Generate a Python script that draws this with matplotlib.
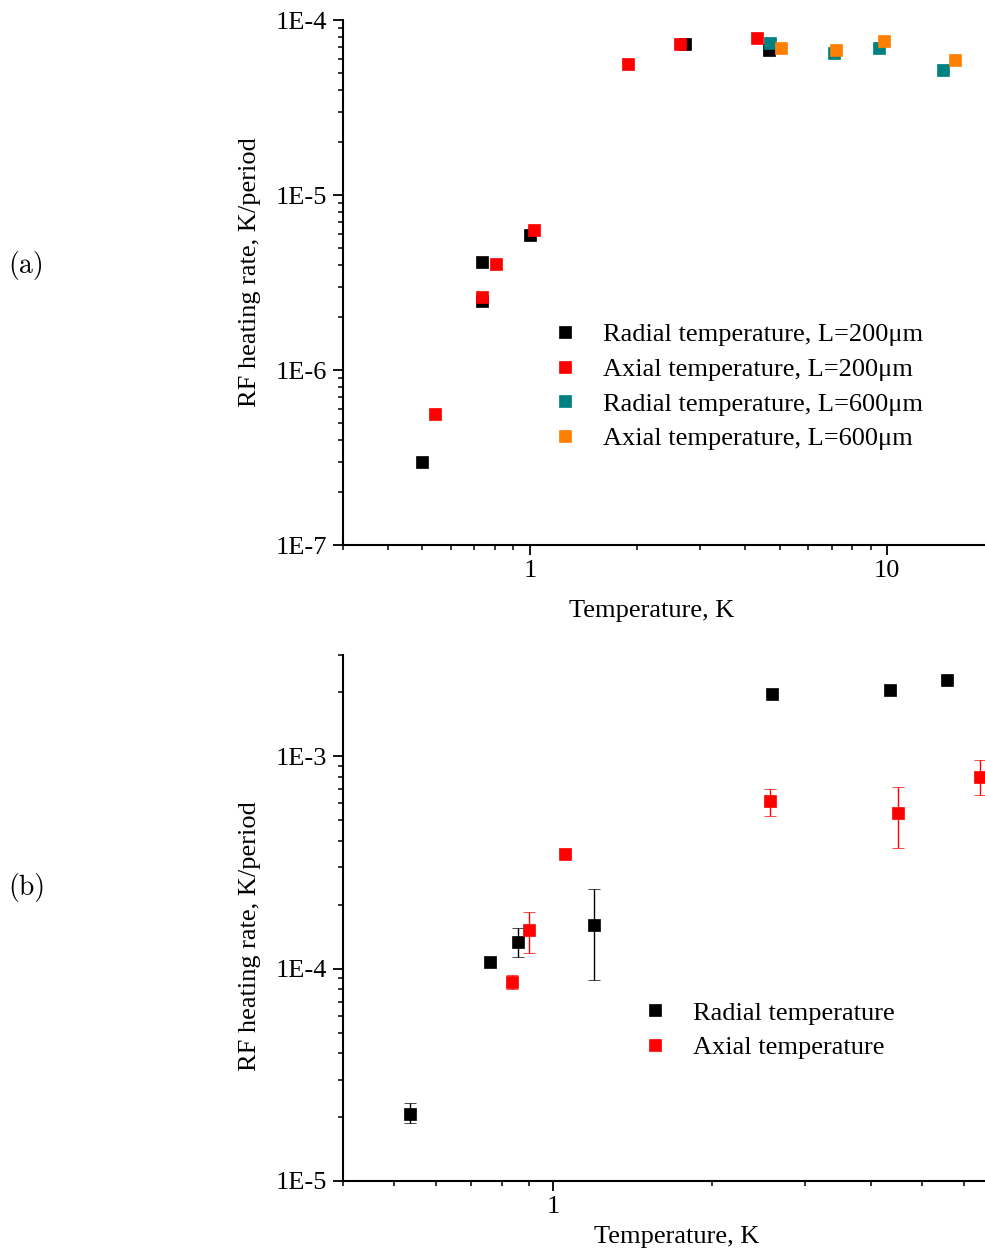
import numpy as np
import matplotlib
matplotlib.use('Agg')
import matplotlib.pyplot as plt
from matplotlib.lines import Line2D
from matplotlib.ticker import LogLocator, FuncFormatter, NullFormatter

# panel (a): L=200um and L=600um traps
T_rad200 = [0.499, 0.734, 0.733, 1.00, 2.72, 4.68]
R_rad200 = [3.0e-7, 2.48e-6, 4.14e-6, 5.89e-6, 7.34e-5, 6.7e-5]
T_ax200 = [0.544, 0.734, 0.804, 1.03, 1.88, 2.64, 4.33]
R_ax200 = [5.64e-7, 2.6e-6, 4.01e-6, 6.28e-6, 5.64e-5, 7.34e-5, 7.84e-5]
T_rad600 = [4.71, 7.11, 9.47, 14.3]
R_rad600 = [7.35e-5, 6.48e-5, 6.96e-5, 5.21e-5]
T_ax600 = [5.04, 7.21, 9.81, 15.5]
R_ax600 = [6.96e-5, 6.78e-5, 7.54e-5, 5.94e-5]

# panel (b): with error bars (lower, upper)
T_rad = [0.536, 0.76, 0.859, 1.194, 2.60, 4.35, 5.58]
R_rad = [2.07e-5, 1.07e-4, 1.334e-4, 1.61e-4, 1.97e-3, 2.05e-3, 2.30e-3]
R_rad_lo = [1.87e-5, 1.04e-4, 1.13e-4, 8.85e-5, 1.93e-3, 1.96e-3, 2.25e-3]
R_rad_hi = [2.32e-5, 1.10e-4, 1.55e-4, 2.37e-4, 2.01e-3, 2.14e-3, 2.35e-3]
T_ax = [0.837, 0.901, 1.053, 2.58, 4.50, 6.44]
R_ax = [8.69e-5, 1.52e-4, 3.48e-4, 6.13e-4, 5.39e-4, 8.01e-4]
R_ax_lo = [8.02e-5, 1.19e-4, 3.40e-4, 5.21e-4, 3.70e-4, 6.56e-4]
R_ax_hi = [9.38e-5, 1.84e-4, 3.56e-4, 7.05e-4, 7.15e-4, 9.65e-4]

plt.rcParams['font.family'] = ['Liberation Serif', 'DejaVu Serif']
plt.rcParams['font.size'] = 19

W, H = 985.0, 1257.0
fig = plt.figure(figsize=(W/100, H/100), dpi=100)
ax1 = fig.add_axes([343/W, 1-545/H, 1-343/W, 525/H])
ax2 = fig.add_axes([343/W, 1-1181/H, 1-343/W, 526/H])

ms = 8.5
def pts(ax, x, y, c, lab):
	ax.plot(x, y, 's', color=c, mec=c, mew=0.5, ms=ms, label=lab)

pts(ax1, T_rad200, R_rad200, 'black', u'Radial temperature, L=200\u03bcm')
pts(ax1, T_ax200, R_ax200, '#ff0000', u'Axial temperature, L=200\u03bcm')
pts(ax1, T_rad600, R_rad600, '#008080', u'Radial temperature, L=600\u03bcm')
pts(ax1, T_ax600, R_ax600, '#ff8000', u'Axial temperature, L=600\u03bcm')

def errpts(ax, x, y, lo, hi, c):
	y = np.array(y)
	yerr = [y-np.array(lo), np.array(hi)-y]
	ax.errorbar(x, y, yerr=yerr, fmt='s', color=c, mec=c, mew=0.5, ms=ms,
		ecolor=c, elinewidth=1, capsize=4, capthick=1)

errpts(ax2, T_rad, R_rad, R_rad_lo, R_rad_hi, 'black')
errpts(ax2, T_ax, R_ax, R_ax_lo, R_ax_hi, '#ff0000')

ax1.set_xlim(0.3, 18.8)
ax1.set_ylim(1e-7, 1e-4)
ax2.set_xlim(0.4, 6.58)
ax2.set_ylim(1e-5, 3e-3)

def yfmt(v, p):
	return '1E%d' % int(round(np.log10(v)))
def xfmt(v, p):
	return '%g' % v

for ax in (ax1, ax2):
	ax.set_xscale('log')
	ax.set_yscale('log')
	ax.spines['top'].set_visible(False)
	ax.spines['right'].set_visible(False)
	ax.spines['left'].set_linewidth(1.5)
	ax.spines['bottom'].set_linewidth(1.5)
	ax.xaxis.set_major_locator(LogLocator(base=10, numticks=10))
	ax.xaxis.set_minor_locator(LogLocator(base=10, subs=np.arange(2, 10), numticks=20))
	ax.yaxis.set_major_locator(LogLocator(base=10, numticks=10))
	ax.yaxis.set_minor_locator(LogLocator(base=10, subs=np.arange(2, 10), numticks=20))
	ax.xaxis.set_major_formatter(FuncFormatter(xfmt))
	ax.yaxis.set_major_formatter(FuncFormatter(yfmt))
	ax.xaxis.set_minor_formatter(NullFormatter())
	ax.yaxis.set_minor_formatter(NullFormatter())
	ax.tick_params(which='major', direction='out', length=7, width=1.3, labelsize=19)
	ax.tick_params(which='minor', direction='out', length=3.6, width=1.1)
	ax.tick_params(axis='y', which='major', pad=4.5)
	ax.tick_params(axis='x', which='major', pad=4)
	ax.set_xlabel('Temperature, K', fontsize=19)
	ax.set_ylabel('RF heating rate, K/period', fontsize=19)

ax1.xaxis.set_label_coords(0.481, -0.105)
ax1.yaxis.set_label_coords(-0.128, 0.519)
ax2.xaxis.set_label_coords(0.52, -0.085)
ax2.yaxis.set_label_coords(-0.128, 0.466)

leg_kw = dict(loc='upper left', frameon=False, numpoints=1, handlelength=1.0,
	handletextpad=0.94, labelspacing=0.42, borderpad=0, borderaxespad=0, fontsize=19)
ax1.legend(bbox_to_anchor=(0.326, 0.423), **leg_kw)

# legend of panel (b) shows the markers only, no error bars
h2 = [Line2D([], [], ls='none', marker='s', color=c, mec=c, mew=0.5, ms=ms) for c in ('black', '#ff0000')]
ax2.legend(h2, ['Radial temperature', 'Axial temperature'], bbox_to_anchor=(0.465, 0.342), **leg_kw)

fig.text(8/W, 1-265/H, '(a)', family='cmr10', fontsize=20, va='center', ha='left')
fig.text(8/W, 1-888/H, '(b)', family='cmr10', fontsize=20, va='center', ha='left')

plt.savefig('out.png', dpi=100)
